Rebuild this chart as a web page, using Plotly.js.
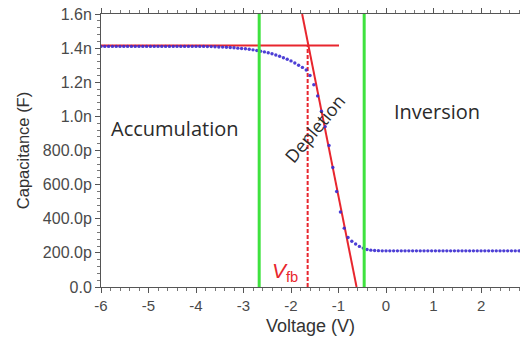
<!DOCTYPE html>
<html><head><meta charset="utf-8">
<script src="https://cdn.plot.ly/plotly-3.0.1.min.js"></script>
<style>html,body{margin:0;padding:0;background:#fff}#c{width:520px;height:341px}</style>
</head><body><div id="c"></div>
<script>
// Measured C-V data (voltage in V, capacitance in nF)
const voltage = [
-6.00,-5.92,-5.84,-5.76,-5.68,-5.60,-5.52,-5.44,-5.36,-5.28,-5.20,-5.12,-5.04,-4.96,-4.88,-4.80,-4.72,-4.64,-4.56,-4.48,
-4.40,-4.32,-4.24,-4.16,-4.08,-4.00,-3.92,-3.84,-3.76,-3.68,-3.60,-3.52,-3.44,-3.36,-3.28,-3.20,-3.12,-3.04,-2.96,-2.88,
-2.80,-2.72,-2.64,-2.56,-2.48,-2.40,-2.32,-2.24,-2.16,-2.08,-2.00,-1.92,-1.84,-1.76,-1.68,-1.60,-1.52,-1.44,-1.36,-1.28,
-1.20,-1.12,-1.04,-0.96,-0.88,-0.80,-0.72,-0.64,-0.56,-0.48,-0.40,-0.32,-0.24,-0.16,-0.08,0.00,0.08,0.16,0.24,0.32,
0.40,0.48,0.56,0.64,0.72,0.80,0.88,0.96,1.04,1.12,1.20,1.28,1.36,1.44,1.52,1.60,1.68,1.76,1.84,1.92,
2.00,2.08,2.16,2.24,2.32,2.40,2.48,2.56,2.64,2.72,2.80];
const capacitance = [
1.410,1.410,1.410,1.410,1.410,1.410,1.410,1.410,1.410,1.410,1.410,1.410,1.410,1.410,1.410,1.410,1.410,1.410,1.410,1.410,
1.410,1.410,1.410,1.410,1.410,1.410,1.410,1.410,1.409,1.409,1.408,1.407,1.406,1.405,1.404,1.402,1.400,1.398,1.396,1.393,
1.390,1.386,1.382,1.378,1.373,1.367,1.360,1.352,1.344,1.335,1.325,1.313,1.300,1.287,1.272,1.240,1.185,1.120,1.030,0.940,
0.830,0.700,0.560,0.440,0.345,0.290,0.268,0.252,0.238,0.228,0.220,0.216,0.214,0.213,0.212,0.212,0.212,0.212,0.212,0.212,
0.212,0.212,0.212,0.212,0.212,0.212,0.212,0.212,0.212,0.212,0.212,0.212,0.212,0.212,0.212,0.212,0.212,0.212,0.212,0.212,
0.212,0.212,0.212,0.212,0.212,0.212,0.212,0.212,0.212,0.212,0.212];
// Guide lines
const regionBounds = [-2.67, -0.46];          // green region boundaries (V)
const flatbandV = -1.65;                       // V_fb
const accLineX = [-6.0, -0.99], accLineC = 1.415;
const tangentX = [-1.766, -0.62], tangentC = [1.6, 0.0];
// Ticks
const xTicks = [-6,-5,-4,-3,-2,-1,0,1,2];
const xTickText = ['-6','-5','-4','-3','-2','-1','0','1','2'];
const yTicks = [0,0.2,0.4,0.6,0.8,1.0,1.2,1.4,1.6];
const yTickText = ['0.0','200.0p','400.0p','600.0p','800.0p','1.0n','1.2n','1.4n','1.6n'];

const RED = '#e8262e', GREEN = '#3fe23f', BLUE = '#3a2ad0';
const traces = [
  {x: accLineX, y: [accLineC, accLineC], mode:'lines', line:{color:RED, width:2}, hoverinfo:'skip'},
  {x: tangentX, y: tangentC, mode:'lines', line:{color:RED, width:2}, hoverinfo:'skip'},
  {x: [flatbandV, flatbandV], y: [0, accLineC], mode:'lines', line:{color:RED, width:2, dash:'4px,2px'}, hoverinfo:'skip'},
  {x: voltage, y: capacitance, mode:'markers', marker:{color:BLUE, size:3.4, opacity:0.9}, hoverinfo:'skip'},
  {x: [regionBounds[0], regionBounds[0]], y: [0, 1.6], mode:'lines', line:{color:GREEN, width:3}, hoverinfo:'skip'},
  {x: [regionBounds[1], regionBounds[1]], y: [0, 1.6], mode:'lines', line:{color:GREEN, width:3}, hoverinfo:'skip'}
];
const txt = {family:'Open Sans, Noto Sans, sans-serif', size:20, color:'#2b2b2b'};
const layout = {
  width:520, height:341, showlegend:false,
  paper_bgcolor:'#fff', plot_bgcolor:'#fff',
  margin:{l:101, r:0, t:14, b:54},
  font:{family:'Liberation Sans, Arial, sans-serif', color:'#444', size:14},
  xaxis:{range:[-6, 2.82], tickvals:xTicks, ticktext:xTickText, showgrid:false, zeroline:false,
    showline:true, linecolor:'#555', linewidth:1, mirror:'ticks', ticks:'outside', ticklen:5, tickcolor:'#555',
    minor:{dtick:0.2, ticks:'outside', ticklen:3, tickcolor:'#777', showgrid:false},
    title:{text:'Voltage (V)', font:{size:18, color:'#333'}, standoff:6}, tickfont:{size:15, color:'#4a4a4a'}},
  yaxis:{range:[0, 1.6], tickvals:yTicks, ticktext:yTickText, showgrid:false, zeroline:false,
    showline:true, linecolor:'#555', linewidth:1, mirror:'ticks', ticks:'outside', ticklen:5, tickcolor:'#555',
    minor:{dtick:0.04, ticks:'outside', ticklen:3, tickcolor:'#777', showgrid:false},
    title:{text:'Capacitance (F)', font:{size:16.5, color:'#333'}, standoff:9}, tickfont:{size:16, color:'#4a4a4a'}},
  annotations:[
    {x:-4.44, y:0.93, text:'Accumulation', showarrow:false, font:txt},
    {x:1.08, y:1.03, text:'Inversion', showarrow:false, font:txt},
    {x:-1.49, y:0.93, text:'Depletion', showarrow:false, font:Object.assign({}, txt, {size:18}), textangle:-50},
    {x:-2.12, y:0.09, text:'<i>V</i><sub>fb</sub>', showarrow:false, font:{family:'Liberation Sans, Arial, sans-serif', size:21, color:RED}}
  ]
};
Plotly.newPlot('c', traces, layout, {displayModeBar:false, staticPlot:true});
</script></body></html>
